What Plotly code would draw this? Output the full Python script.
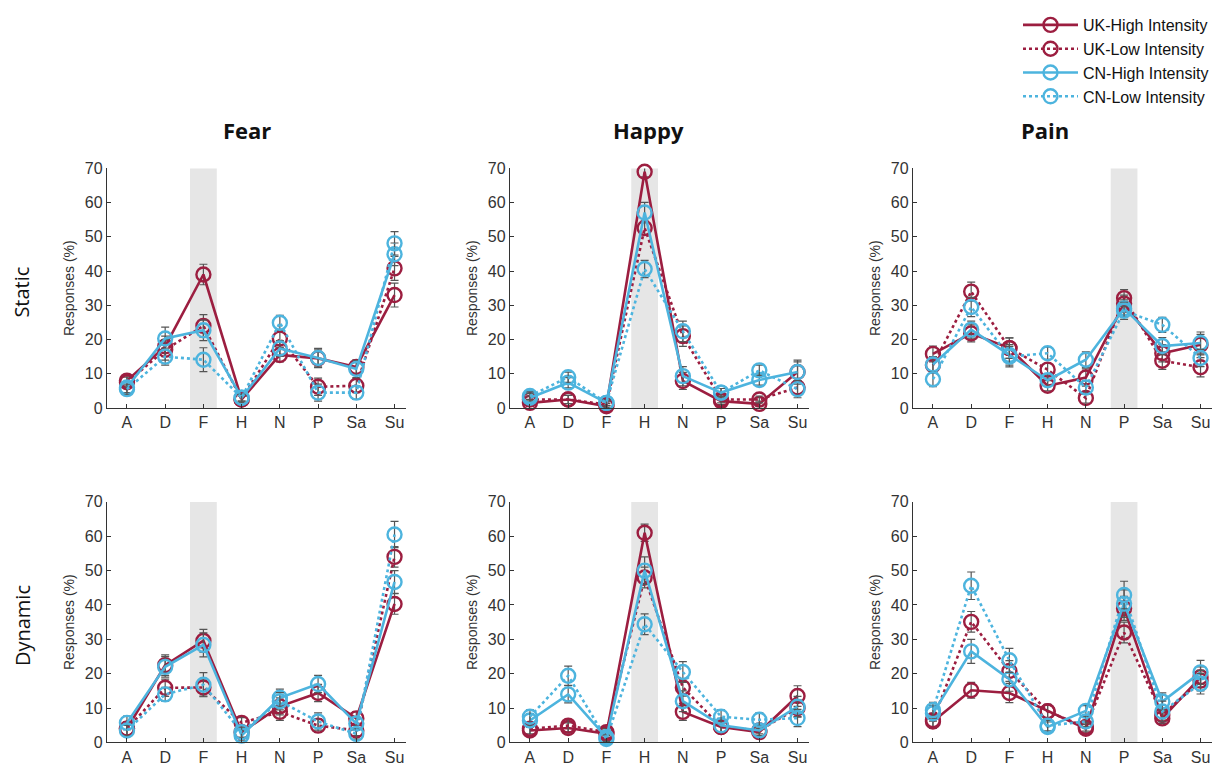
import plotly.graph_objects as go

# Response categories on the x axis
CATEGORIES = ["A", "D", "F", "H", "N", "P", "Sa", "Su"]
EMOTIONS = ["Fear", "Happy", "Pain"]
CONDITIONS = ["Static", "Dynamic"]
TARGET = {"Fear": "F", "Happy": "H", "Pain": "P"}
SERIES = ["UK-High Intensity", "UK-Low Intensity", "CN-High Intensity", "CN-Low Intensity"]

# Mean responses (%) per series, order as SERIES
FEAR_STATIC = [
    [8, 18, 39, 2.5, 15.5, 14.5, 12, 33],
    [7.5, 17, 24, 2.5, 20.3, 6.2, 6.5, 40.8],
    [6, 20.3, 22.7, 3, 17.4, 14.6, 11.4, 44.9],
    [5.5, 15, 14.1, 3, 24.9, 4.5, 4.5, 48.1],
]
HAPPY_STATIC = [
    [1.5, 2.5, 0.5, 69, 7.9, 2, 1.2, 10.5],
    [2.5, 2.5, 1, 52.6, 21, 2.5, 2.5, 6],
    [3, 7.4, 1.5, 57.1, 9.3, 4.5, 8.2, 10.5],
    [3.5, 9, 1.5, 40.6, 22.4, 4.5, 11, 5.5],
]
PAIN_STATIC = [
    [15.8, 21.8, 17.5, 6.5, 8.9, 30.5, 16, 18.5],
    [12.5, 34, 17.5, 11.2, 2.9, 32.1, 13.8, 11.9],
    [12.7, 22.9, 15.5, 8.1, 14.1, 29.1, 18.1, 19],
    [8.4, 29.5, 15, 16, 6, 28.4, 24.3, 14.6],
]
FEAR_DYNAMIC = [
    [4, 22.5, 29.6, 3, 10.5, 14.4, 7, 40.3],
    [4, 15.9, 16, 5.7, 8.9, 4.9, 3.5, 54],
    [5.7, 22, 28.4, 2, 13, 17, 5.5, 46.7],
    [3.5, 14, 16.8, 3, 12, 6.1, 2.5, 60.5],
]
HAPPY_DYNAMIC = [
    [3.5, 4.2, 2.5, 61, 8.9, 4.5, 3, 13.5],
    [4, 4.9, 3, 48, 16, 4.5, 3.5, 10],
    [6.4, 14, 1.5, 50, 12, 5, 3.5, 10.4],
    [7.5, 19.4, 1, 34.4, 20.5, 7.5, 6.6, 7.1],
]
PAIN_DYNAMIC = [
    [6.1, 15.2, 14.4, 9.1, 4, 39, 7, 19],
    [6.5, 35.1, 20.8, 9, 4.5, 32, 8, 18],
    [8.5, 26.5, 18.4, 4.5, 9.2, 40.4, 11.9, 20.4],
    [9.4, 45.6, 23.9, 4.9, 6.1, 42.9, 9, 17.1],
]

# Standard errors (%) per series, order as SERIES
FEAR_STATIC_SE = [
    [1.5, 3, 3, 1, 2, 2.5, 2, 3.5],
    [1.5, 3, 3.3, 1, 2.5, 2.5, 2, 3.5],
    [1.5, 3.3, 3, 1, 2.3, 2.8, 2.5, 3.3],
    [1.5, 2.5, 3.5, 1, 2.2, 2.5, 2, 3.4],
]
HAPPY_STATIC_SE = [
    [1, 1.2, 0.8, 1.5, 2.5, 1, 0.8, 3],
    [1, 1.2, 0.8, 2, 3, 1, 1, 2],
    [1.2, 1.5, 0.8, 3, 2.8, 1.2, 1.5, 3.5],
    [1.2, 1.5, 0.8, 2.5, 3, 1.2, 1.5, 2.5],
]
PAIN_STATIC_SE = [
    [2.3, 2.5, 3, 1.5, 2.5, 2.5, 2.5, 3],
    [2.3, 2.8, 3, 1.8, 1.5, 2.5, 2.5, 2.8],
    [2.3, 2.5, 3, 1.8, 2.3, 2.5, 2.5, 3.2],
    [2.2, 2.8, 3, 1.8, 2, 2.5, 2.2, 2.5],
]
FEAR_DYNAMIC_SE = [
    [2, 3, 3.3, 1.5, 2.5, 2.5, 2, 3],
    [2, 2.5, 2.5, 1.5, 2.5, 2, 1.5, 3],
    [2, 3, 3.5, 1.5, 2.5, 2.5, 2, 3.3],
    [1.5, 2, 3.5, 1.5, 2.5, 2.5, 1.5, 3.8],
]
HAPPY_DYNAMIC_SE = [
    [1.5, 1.5, 1, 2.5, 2.5, 1.5, 1, 3],
    [1.5, 1.8, 1, 3, 2.5, 1.5, 1, 2.5],
    [2, 2.5, 1.2, 4, 3, 2, 1.5, 3],
    [2, 2.8, 1.2, 3, 3, 2, 2, 2.5],
]
PAIN_DYNAMIC_SE = [
    [2, 2.3, 2.8, 2, 1.2, 3.5, 1.5, 3],
    [2, 3, 3, 2, 1.2, 3, 1.5, 3],
    [2.3, 3.5, 3.5, 1.5, 1.5, 4, 2.5, 3.5],
    [2.3, 4, 3.5, 1.5, 1.5, 4, 3, 3],
]

PANELS = {
    ("Static", "Fear"): (FEAR_STATIC, FEAR_STATIC_SE),
    ("Static", "Happy"): (HAPPY_STATIC, HAPPY_STATIC_SE),
    ("Static", "Pain"): (PAIN_STATIC, PAIN_STATIC_SE),
    ("Dynamic", "Fear"): (FEAR_DYNAMIC, FEAR_DYNAMIC_SE),
    ("Dynamic", "Happy"): (HAPPY_DYNAMIC, HAPPY_DYNAMIC_SE),
    ("Dynamic", "Pain"): (PAIN_DYNAMIC, PAIN_DYNAMIC_SE),
}

RED = "#9C1E40"
BLUE = "#4DB4DE"
STYLES = [
    dict(color=RED, dash="solid"),
    dict(color=RED, dash="dot"),
    dict(color=BLUE, dash="solid"),
    dict(color=BLUE, dash="dot"),
]

W, H = 1214, 772
COL_PX = [(107, 406), (510, 809), (913, 1212)]
ROW_PX = [(164, 409), (505, 751)]
X_RANGE = [0.478, 8.3]
AXIS_COLOR = "#333333"
TICK_FONT = dict(family="Liberation Sans, Arial, sans-serif", size=16, color="#333333")

fig = go.Figure()
x_vals = list(range(1, len(CATEGORIES) + 1))

shapes = []
annotations = []
layout_axes = {}
idx = 0
for r, cond in enumerate(CONDITIONS):
    for c, emo in enumerate(EMOTIONS):
        idx += 1
        xa = "x" if idx == 1 else f"x{idx}"
        ya = "y" if idx == 1 else f"y{idx}"
        means, ses = PANELS[(cond, emo)]

        # highlighted target-emotion column
        t = CATEGORIES.index(TARGET[emo]) + 1
        shapes.append(dict(type="rect", xref=xa, yref=ya, x0=t - 0.35, x1=t + 0.35,
                           y0=0, y1=70.6, fillcolor="#E6E6E6", line=dict(width=0),
                           layer="below"))

        for s, name in enumerate(SERIES):
            st = STYLES[s]
            fig.add_trace(go.Scatter(
                x=x_vals, y=means[s], xaxis=xa, yaxis=ya,
                mode="lines+markers", name=name, legendgroup=name,
                showlegend=(idx == 1), cliponaxis=False,
                line=dict(color=st["color"], width=2.6, dash=st["dash"]),
                marker=dict(symbol="circle-open", size=14, color=st["color"],
                            line=dict(width=2.4, color=st["color"])),
                error_y=dict(type="data", array=ses[s], visible=True,
                             color="#555555", thickness=1.2, width=4),
            ))

        x0, x1 = COL_PX[c]
        y0, y1 = ROW_PX[r]
        kx = "xaxis" if idx == 1 else f"xaxis{idx}"
        ky = "yaxis" if idx == 1 else f"yaxis{idx}"
        layout_axes[kx] = dict(
            domain=[x0 / W, x1 / W], anchor=ya, range=X_RANGE,
            tickmode="array", tickvals=x_vals, ticktext=CATEGORIES,
            showline=True, linecolor=AXIS_COLOR, linewidth=1.3,
            ticks="inside", ticklen=4, tickcolor=AXIS_COLOR,
            showgrid=False, zeroline=False, tickfont=TICK_FONT,
        )
        layout_axes[ky] = dict(
            domain=[1 - y1 / H, 1 - y0 / H], anchor=xa, range=[0, 70],
            tickmode="array", tickvals=list(range(0, 71, 10)),
            showline=True, linecolor=AXIS_COLOR, linewidth=1.3,
            ticks="inside", ticklen=4, tickcolor=AXIS_COLOR,
            showgrid=False, zeroline=False, tickfont=TICK_FONT,
            title=dict(text="Responses (%)", standoff=6,
                       font=dict(family="Liberation Sans, Arial, sans-serif",
                                 size=14, color="#333333")),
        )

# column titles
for c, emo in enumerate(EMOTIONS):
    cx = {0: 247, 1: 648, 2: 1045}[c]
    annotations.append(dict(text=f"<b>{emo}</b>", xref="paper", yref="paper",
                            x=cx / W, y=1 - 125 / H, showarrow=False,
                            xanchor="center", yanchor="middle",
                            font=dict(family="Open Sans, sans-serif", size=22, color="#111111")))

# row labels
for r, cond in enumerate(CONDITIONS):
    cy = [291, 632][r]
    annotations.append(dict(text=cond, xref="paper", yref="paper",
                            x=22 / W, y=1 - cy / H, showarrow=False, textangle=-90,
                            xanchor="center", yanchor="middle",
                            font=dict(family="Open Sans, sans-serif", size=20, color="#111111")))

fig.update_layout(
    width=W, height=H,
    margin=dict(l=0, r=0, t=0, b=0),
    paper_bgcolor="white", plot_bgcolor="white",
    shapes=shapes, annotations=annotations,
    legend=dict(x=1.0, y=1.0, xanchor="right", yanchor="top",
                font=dict(family="Liberation Sans, Arial, sans-serif", size=16, color="#111111"),
                itemwidth=55, tracegroupgap=0, bgcolor="rgba(0,0,0,0)"),
    **layout_axes,
)

fig.write_html("out.html")
